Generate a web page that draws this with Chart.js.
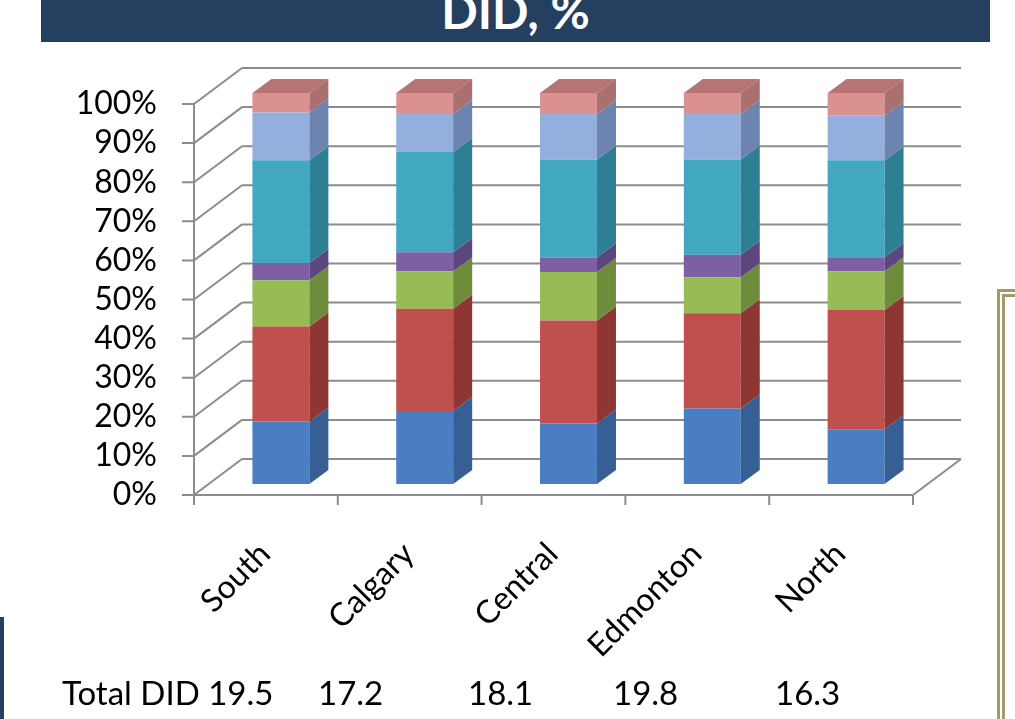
<!DOCTYPE html>
<html>
<head>
<meta charset="utf-8">
<script src="https://cdn.jsdelivr.net/npm/chart.js@4/dist/chart.umd.min.js"></script>
<style>
  html, body { margin: 0; padding: 0; background: #fff; overflow: hidden; }
  body { width: 1015px; height: 719px; position: relative; font-family: Lato, "Open Sans", sans-serif; }
  #titleBar { position: absolute; left: 41px; top: 0; width: 949px; height: 42px; background: #243f60; overflow: hidden; }
  #titleBar span { position: absolute; left: 0; width: 100%; top: -13px; text-align: center; color: #fff; font-weight: bold; font-size: 48px; line-height: 48px; }
  #sideBox { position: absolute; left: 997px; top: 289px; width: 40px; height: 480px; border: 8px double #a39a6a; box-sizing: border-box; }
  #leftStripe { position: absolute; left: 0; top: 617px; width: 4px; height: 102px; background: #243f60; }
  #chartWrap { position: absolute; left: 0; top: 0; width: 1015px; height: 719px; }
  .did { position: absolute; top: 676px; font-size: 33px; line-height: 33px; color: #000; white-space: nowrap; }
</style>
</head>
<body>
<div id="titleBar"><span>DID, %</span></div>
<div id="sideBox"></div>
<div id="leftStripe"></div>
<div id="chartWrap"><canvas id="did-chart" width="1015" height="719"></canvas></div>
<div id="didRow"></div>

<script>
// Regions (x axis)
const categories = ["South", "Calgary", "Central", "Edmonton", "North"];

// Share of DID per series, % (bottom to top)
const seriesNames = ["Series 1", "Series 2", "Series 3", "Series 4", "Series 5", "Series 6", "Series 7"];
const blueValues = [16.0, 18.7, 15.5, 19.3, 14.0];
const redValues = [24.3, 26.1, 26.3, 24.4, 30.5];
const greenValues = [11.8, 9.6, 12.4, 9.2, 9.9];
const purpleValues = [4.4, 4.9, 3.7, 5.7, 3.6];
const tealValues = [26.3, 25.6, 25.1, 24.4, 24.8];
const lightBlueValues = [12.2, 9.7, 11.6, 11.6, 11.4];
const pinkValues = [5.0, 5.4, 5.4, 5.4, 5.8];

// Total DID row under the chart
const totalDID = ["19.5", "17.2", "18.1", "19.8", "16.3"];

// y axis ticks
const yTickValues = [0, 10, 20, 30, 40, 50, 60, 70, 80, 90, 100];

const frontColors = ["#4a7ec2", "#c0504d", "#97bb55", "#7c60a3", "#42a8c2", "#94afdd", "#db918f"];
const sideColors = ["#365f94", "#8e3634", "#6e8c3c", "#5c4680", "#2f7f94", "#6d84b0", "#a9706f"];
const topColor = "#b77474";

// 3D offsets (pixels)
const DEPTH_X = 19, DEPTH_Y = -14;   // bar depth
const FRONT_X = -15, FRONT_Y = 11;   // bar plane -> front edge of floor
const BACK_X = 33, BACK_Y = -25;     // bar plane -> back wall
const GRID_COLOR = "#8c8c8c";

// Total DID text row
const didRow = document.getElementById("didRow");
const didLefts = [318, 468, 613, 775];
const first = document.createElement("div");
first.className = "did";
first.style.left = "62px";
first.textContent = "Total DID " + totalDID[0];
didRow.appendChild(first);
totalDID.slice(1).forEach((t, i) => {
    const d = document.createElement("div");
    d.className = "did";
    d.style.left = didLefts[i] + "px";
    d.textContent = t;
    didRow.appendChild(d);
});

// Walls, floor and gridlines behind the bars
const wallsPlugin = {
    id: "walls",
    beforeDatasetsDraw(chart) {
        const ctx = chart.ctx;
        const ys = chart.scales.y;
        const xs = chart.scales.x;
        const a = chart.chartArea;
        ctx.save();
        ctx.strokeStyle = GRID_COLOR;
        ctx.lineWidth = 2;
        ctx.beginPath();
        yTickValues.forEach(v => {
            const y = ys.getPixelForValue(v);
            // back wall line
            ctx.moveTo(a.left + BACK_X, y + BACK_Y);
            ctx.lineTo(a.right + BACK_X, y + BACK_Y);
            // side wall diagonal
            ctx.moveTo(a.left + FRONT_X, y + FRONT_Y);
            ctx.lineTo(a.left + BACK_X, y + BACK_Y);
            // tick mark
            ctx.moveTo(a.left + FRONT_X - 12, y + FRONT_Y);
            ctx.lineTo(a.left + FRONT_X, y + FRONT_Y);
        });
        const y0 = ys.getPixelForValue(0);
        const y100 = ys.getPixelForValue(100);
        // front vertical axis
        ctx.moveTo(a.left + FRONT_X, y100 + FRONT_Y);
        ctx.lineTo(a.left + FRONT_X, y0 + FRONT_Y);
        // floor front edge and right diagonal
        ctx.moveTo(a.left + FRONT_X, y0 + FRONT_Y);
        ctx.lineTo(a.right + FRONT_X, y0 + FRONT_Y);
        ctx.lineTo(a.right + BACK_X, y0 + BACK_Y);
        // category ticks
        for (let i = 0; i <= categories.length; i++) {
            const x = xs.getPixelForValue(i - 0.5) + FRONT_X;
            ctx.moveTo(x, y0 + FRONT_Y);
            ctx.lineTo(x, y0 + FRONT_Y + 10);
        }
        ctx.stroke();
        ctx.restore();
    },
    // side and top faces of the bars
    afterDatasetsDraw(chart) {
        const ctx = chart.ctx;
        const last = chart.data.datasets.length - 1;
        ctx.save();
        chart.data.datasets.forEach((ds, di) => {
            const meta = chart.getDatasetMeta(di);
            meta.data.forEach(bar => {
                const p = bar.getProps(["x", "y", "base", "width"], true);
                const right = p.x + p.width / 2;
                const left = p.x - p.width / 2;
                ctx.fillStyle = sideColors[di];
                ctx.beginPath();
                ctx.moveTo(right, p.y);
                ctx.lineTo(right + DEPTH_X, p.y + DEPTH_Y);
                ctx.lineTo(right + DEPTH_X, p.base + DEPTH_Y);
                ctx.lineTo(right, p.base);
                ctx.closePath();
                ctx.fill();
                if (di === last) {
                    ctx.fillStyle = topColor;
                    ctx.beginPath();
                    ctx.moveTo(left, p.y);
                    ctx.lineTo(left + DEPTH_X, p.y + DEPTH_Y);
                    ctx.lineTo(right + DEPTH_X, p.y + DEPTH_Y);
                    ctx.lineTo(right, p.y);
                    ctx.closePath();
                    ctx.fill();
                }
            });
        });
        ctx.restore();
    }
};

const seriesValues = [blueValues, redValues, greenValues, purpleValues, tealValues, lightBlueValues, pinkValues];

new Chart("did-chart", {
    type: "bar",
    data: {
        labels: categories,
        datasets: seriesValues.map((vals, i) => ({
            label: seriesNames[i],
            data: vals,
            backgroundColor: frontColors[i],
            borderWidth: 0,
            barPercentage: 0.396,
            categoryPercentage: 1
        }))
    },
    options: {
        responsive: false,
        animation: false,
        layout: { padding: { top: 93, right: 87, left: 0, bottom: 0 } },
        plugins: {
            legend: { display: false },
            tooltip: { enabled: false }
        },
        scales: {
            x: {
                stacked: true,
                grid: { display: false, drawTicks: false },
                border: { display: false },
                ticks: {
                    color: "#000",
                    font: { family: "Lato", size: 32 },
                    minRotation: 45,
                    maxRotation: 45,
                    autoSkip: false,
                    padding: 51,
                    labelOffset: -16
                },
                afterFit: scale => { scale.height = 235; }
            },
            y: {
                stacked: true,
                min: 0,
                max: 100,
                grid: { display: false, drawTicks: false },
                border: { display: false },
                ticks: {
                    stepSize: 10,
                    autoSkip: false,
                    color: "#000",
                    font: { family: "Lato", size: 32 },
                    padding: 52,
                    labelOffset: 11,
                    callback: v => v + "%"
                },
                afterFit: scale => { scale.width = 209; }
            }
        }
    },
    plugins: [wallsPlugin]
});
</script>
</body>
</html>
